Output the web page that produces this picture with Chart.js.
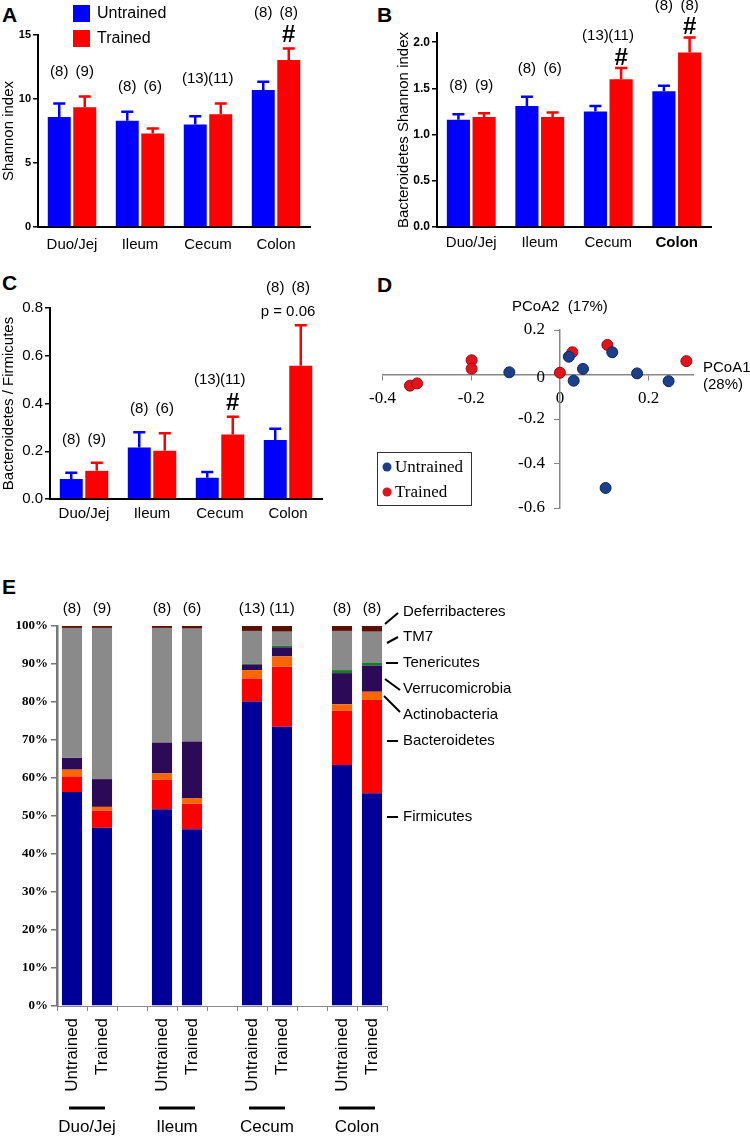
<!DOCTYPE html>
<html>
<head>
<meta charset="utf-8">
<script src="https://cdn.jsdelivr.net/npm/chart.js@4.4.0/dist/chart.umd.min.js"></script>
<style>
  body { margin: 0; background: #fff; width: 750px; height: 1137px; position: relative; overflow: hidden; }
  canvas { position: absolute; }
  .panel { position: absolute; font: bold 21px Arial, "Liberation Sans", sans-serif; line-height: 21px; color: #000; }
</style>
</head>
<body>
<div class="panel" style="left:2px;top:4px">A</div>
<div class="panel" style="left:377px;top:4px">B</div>
<div class="panel" style="left:2px;top:272px">C</div>
<div class="panel" style="left:377px;top:274px">D</div>
<div class="panel" style="left:2px;top:576px">E</div>

<canvas id="pa" width="375" height="290" style="left:0;top:0"></canvas>
<canvas id="pb" width="375" height="290" style="left:375px;top:0"></canvas>
<canvas id="pc" width="375" height="265" style="left:0;top:270px"></canvas>
<canvas id="pd" width="390" height="260" style="left:360px;top:270px"></canvas>
<canvas id="pe" width="750" height="577" style="left:0;top:560px"></canvas>

<script>
// ---- data ----
const sites = ['Duo/Jej', 'Ileum', 'Cecum', 'Colon'];
const nUntrained = [8, 8, 13, 8];
const nTrained = [9, 6, 11, 8];

// A: Shannon index (mean, sem)
const shannonUntrained = [8.6, 8.3, 8.0, 10.7];
const shannonUntrainedSem = [1.05, 0.7, 0.65, 0.65];
const shannonTrained = [9.35, 7.3, 8.8, 13.05];
const shannonTrainedSem = [0.85, 0.4, 0.85, 0.9];

// B: Bacteroidetes Shannon index
const bactUntrained = [1.16, 1.31, 1.25, 1.47];
const bactUntrainedSem = [0.06, 0.10, 0.06, 0.06];
const bactTrained = [1.19, 1.19, 1.60, 1.89];
const bactTrainedSem = [0.04, 0.05, 0.12, 0.16];

// C: Bacteroidetes / Firmicutes
const ratioUntrained = [0.084, 0.216, 0.089, 0.247];
const ratioUntrainedSem = [0.026, 0.064, 0.024, 0.047];
const ratioTrained = [0.118, 0.202, 0.27, 0.558];
const ratioTrainedSem = [0.034, 0.073, 0.074, 0.17];

// D: PCoA
const pcoa1Untrained = [-0.114, 0.02, 0.031, 0.052, 0.118, 0.174, 0.245, 0.103];
const pcoa2Untrained = [0.01, 0.08, -0.028, 0.025, 0.10, 0.005, -0.03, -0.51];
const pcoa1Trained = [-0.338, -0.322, -0.199, -0.199, 0, 0.028, 0.107, 0.285];
const pcoa2Trained = [-0.05, -0.04, 0.064, 0.026, 0.008, 0.10, 0.133, 0.06];

// E: relative abundance (%), samples: Duo U/T, Ileum U/T, Cecum U/T, Colon U/T
const sampleGroups = ['Untrained', 'Trained', 'Untrained', 'Trained', 'Untrained', 'Trained', 'Untrained', 'Trained'];
const nE = [8, 9, 8, 6, 13, 11, 8, 8];
const phyla = ['Firmicutes', 'Bacteroidetes', 'Actinobacteria', 'Verrucomicrobia', 'Tenericutes', 'TM7', 'Deferribacteres'];
const firmicutes = [56.3, 46.9, 51.8, 46.5, 80.1, 73.5, 63.4, 56.0];
const bacteroidetes = [4.1, 4.5, 7.7, 6.7, 6.1, 15.8, 14.3, 24.5];
const actinobacteria = [1.8, 1.0, 1.7, 1.5, 2.2, 2.7, 1.7, 2.2];
const verrucomicrobia = [3.1, 7.3, 8.1, 14.9, 1.5, 2.4, 8.2, 6.9];
const tenericutes = [0, 0, 0, 0, 0.2, 0.4, 0.8, 0.8];
const tm7 = [34.2, 39.8, 30.2, 29.7, 8.6, 3.7, 10.3, 8.1];
const deferribacteres = [0.5, 0.5, 0.5, 0.7, 1.3, 1.5, 1.3, 1.5];

// ---- style ----
const BLUE = '#0000ff';
const RED = '#ff0000';
const SANS = 'Arial, "Liberation Sans", Helvetica, sans-serif';
const SERIF = '"Times New Roman", "Liberation Serif", Times, serif';
Chart.defaults.font.family = SANS;
Chart.defaults.color = '#000';
Chart.defaults.animation = false;

// error bars, n labels, # / p marks, optional legend
function barDecor(p) {
  return {
    id: 'barDecor',
    afterDatasetsDraw(chart) {
      const ctx = chart.ctx;
      const ys = chart.scales.y;
      const sems = [p.sem0, p.sem1];
      const metas = [chart.getDatasetMeta(0), chart.getDatasetMeta(1)];
      const tops = metas.map((m, d) => m.data.map((bar, i) =>
        ys.getPixelForValue(chart.data.datasets[d].data[i] + sems[d][i])));
      ctx.save();
      ctx.lineWidth = 2.5;
      metas.forEach((m, d) => {
        ctx.strokeStyle = chart.data.datasets[d].backgroundColor;
        m.data.forEach((bar, i) => {
          const t = tops[d][i];
          ctx.beginPath();
          ctx.moveTo(bar.x, bar.y);
          ctx.lineTo(bar.x, t);
          ctx.moveTo(bar.x - 6, t);
          ctx.lineTo(bar.x + 6, t);
          ctx.stroke();
        });
      });
      ctx.fillStyle = '#000';
      ctx.textAlign = 'center';
      ctx.textBaseline = 'middle';
      sites.forEach((s, i) => {
        const x0 = metas[0].data[i].x, x1 = metas[1].data[i].x;
        let ny = Math.min(tops[0][i], tops[1][i]) - p.nGap;
        const mark = p.marks[i];
        if (mark) {
          const my = tops[1][i] - p.markGap;
          ctx.font = mark.font;
          ctx.fillText(mark.text, mark.onBar ? x1 : (x0 + x1) / 2, my);
          ny = my - p.markToN;
        }
        ctx.font = '15px ' + SANS;
        ctx.fillText('(' + nUntrained[i] + ')', x0, ny);
        ctx.fillText('(' + nTrained[i] + ')', x1, ny);
      });
      if (p.legend) {
        ctx.textAlign = 'left';
        ctx.font = '16px ' + SANS;
        chart.data.datasets.forEach((ds, d) => {
          const y0 = 5 + d * 25;
          ctx.fillStyle = ds.backgroundColor;
          ctx.fillRect(73, y0, 17, 17);
          ctx.fillStyle = '#000';
          ctx.fillText(ds.label, 97, y0 + 9);
        });
      }
      ctx.restore();
    }
  };
}

function barPanel(id, p) {
  return new Chart(document.getElementById(id), {
    type: 'bar',
    data: {
      labels: sites,
      datasets: [
        { label: 'Untrained', data: p.data0, backgroundColor: BLUE, categoryPercentage: 0.75, barPercentage: 0.9 },
        { label: 'Trained', data: p.data1, backgroundColor: RED, categoryPercentage: 0.75, barPercentage: 0.9 }
      ]
    },
    options: {
      responsive: false,
      devicePixelRatio: 1,
      layout: { padding: p.padding },
      plugins: { legend: { display: false }, tooltip: { enabled: false } },
      scales: {
        x: {
          grid: { display: false, drawTicks: false },
          border: { color: '#000', width: 2 },
          ticks: { font: p.xFont, padding: p.xPad, maxRotation: 0, autoSkip: false },
          afterFit: s => { s.height = p.xHeight; }
        },
        y: {
          min: 0, max: p.max,
          ticks: { stepSize: p.step, includeBounds: false, font: p.yFont, padding: 2, callback: p.fmt },
          grid: { drawOnChartArea: false, tickLength: 5, color: '#000', lineWidth: 1.5 },
          border: { color: '#000', width: 2 },
          title: { display: true, text: p.title, font: { size: 15 }, padding: 0 },
          afterFit: s => { s.width = p.yWidth; }
        }
      }
    },
    plugins: [barDecor(p)]
  });
}

const hash = { text: '#', font: 'bold 24px ' + SANS, onBar: true };

barPanel('pa', {
  data0: shannonUntrained, data1: shannonTrained, sem0: shannonUntrainedSem, sem1: shannonTrainedSem,
  max: 15, step: 5, fmt: v => v, title: 'Shannon index',
  yFont: { size: 11, weight: 'bold' }, xFont: { size: 15 }, xPad: 9,
  padding: { left: 0, top: 35, right: 65, bottom: 0 }, yWidth: 38, xHeight: 63,
  nGap: 25, markGap: 13, markToN: 23, marks: [null, null, null, hash], legend: true
});

barPanel('pb', {
  data0: bactUntrained, data1: bactTrained, sem0: bactUntrainedSem, sem1: bactTrainedSem,
  max: 2.1, step: 0.5, fmt: v => v.toFixed(1), title: 'Bacteroidetes Shannon index',
  yFont: { size: 12, weight: 'bold' },
  xFont: c => ({ size: 15, weight: c.index === 3 ? 'bold' : 'normal' }), xPad: 7,
  padding: { left: 20, top: 33, right: 39, bottom: 0 }, yWidth: 42, xHeight: 63,
  nGap: 28, markGap: 10, markToN: 22, marks: [null, null, hash, hash]
});

barPanel('pc', {
  data0: ratioUntrained, data1: ratioTrained, sem0: ratioUntrainedSem, sem1: ratioTrainedSem,
  max: 0.8, step: 0.2, fmt: v => v.toFixed(1), title: 'Bacteroidetes / Firmicutes',
  yFont: { size: 15 }, xFont: { size: 15 }, xPad: 6,
  padding: { left: 0, top: 38, right: 53, bottom: 0 }, yWidth: 50, xHeight: 36,
  nGap: 23, markGap: 13, markToN: 24,
  marks: [null, null, hash, { text: 'p = 0.06', font: '15px ' + SANS, onBar: false }]
});

// ---- D: PCoA scatter ----
const pcoaDecor = {
  id: 'pcoaDecor',
  afterDraw(chart) {
    const ctx = chart.ctx;
    const ys = chart.scales.y;
    const x0 = chart.scales.x.getPixelForValue(0);
    const y0 = ys.getPixelForValue(0);
    ctx.save();
    ctx.fillStyle = '#000';
    ctx.textBaseline = 'middle';
    // y tick labels, set off to the left of the crossing axis
    ctx.font = '17px ' + SERIF;
    ctx.textAlign = 'right';
    ys.ticks.forEach(t => {
      ctx.fillText(t.label, x0 - 15, ys.getPixelForValue(t.value) + (t.value === 0 ? 3 : 0));
    });
    ctx.font = '15px ' + SANS;
    ctx.textAlign = 'center';
    ctx.fillText('PCoA2  (17%)', x0, chart.chartArea.top - 23);
    ctx.textAlign = 'left';
    ctx.fillText('PCoA1', chart.chartArea.right + 10, y0 - 7);
    ctx.fillText('(28%)', chart.chartArea.right + 10, y0 + 10);
    ctx.strokeStyle = '#333';
    ctx.lineWidth = 1;
    ctx.strokeRect(17.5, 182.5, 94, 53);
    ctx.font = '17px ' + SERIF;
    chart.data.datasets.forEach((ds, d) => {
      const y = 197 + d * 25;
      ctx.beginPath();
      ctx.arc(27, y, 4.5, 0, Math.PI * 2);
      ctx.fillStyle = ds.backgroundColor;
      ctx.fill();
      ctx.fillStyle = '#000';
      ctx.fillText(ds.label, 35, y + 1);
    });
    ctx.restore();
  }
};

new Chart(document.getElementById('pd'), {
  type: 'scatter',
  data: {
    datasets: [
      { label: 'Untrained', data: pcoa1Untrained.map((x, i) => ({ x: x, y: pcoa2Untrained[i] })),
        backgroundColor: '#1c3f8c', borderColor: '#0e2660', borderWidth: 1, pointRadius: 5.5 },
      { label: 'Trained', data: pcoa1Trained.map((x, i) => ({ x: x, y: pcoa2Trained[i] })),
        backgroundColor: '#e3121b', borderColor: '#9c0a0f', borderWidth: 1, pointRadius: 5.5 }
    ]
  },
  options: {
    responsive: false,
    devicePixelRatio: 1,
    layout: { padding: { left: 11, top: 60, right: 57, bottom: 22 } },
    plugins: { legend: { display: false }, tooltip: { enabled: false } },
    scales: {
      x: {
        type: 'linear', min: -0.4, max: 0.3, position: { y: 0 },
        ticks: { stepSize: 0.2, includeBounds: false, font: { family: SERIF, size: 17 }, padding: 9 },
        grid: { drawOnChartArea: false, tickLength: 5, color: '#888' },
        border: { color: '#888', width: 1.5 }
      },
      y: {
        type: 'linear', min: -0.6, max: 0.2, position: { x: 0 },
        ticks: { display: false, stepSize: 0.2, includeBounds: false },
        grid: { drawOnChartArea: false, tickLength: 5, color: '#888' },
        border: { color: '#888', width: 1.5 }
      }
    }
  },
  plugins: [pcoaDecor]
});

// ---- E: stacked phylum composition ----
const slots = [0, 1, 3, 4, 6, 7, 9, 10];
const phylumValues = [firmicutes, bacteroidetes, actinobacteria, verrucomicrobia, tenericutes, tm7, deferribacteres];
const phylumColors = ['#000099', '#ff0000', '#ff6600', '#2d0a57', '#1a7a2a', '#8a8a8a', '#5a1000'];
const eLabels = new Array(11).fill('');
slots.forEach((s, k) => { eLabels[s] = sampleGroups[k]; });
function spread(vals) {
  const out = new Array(11).fill(null);
  slots.forEach((s, k) => { out[s] = vals[k]; });
  return out;
}
// phylum key on the right, top to bottom, with leader lines
const keyRows = [
  { name: 'Deferribacteres', y: 52, from: [385, 64], to: [398, 53] },
  { name: 'TM7', y: 77, from: [387, 83], to: [398, 77] },
  { name: 'Tenericutes', y: 103, from: [386, 103], to: [398, 103] },
  { name: 'Verrucomicrobia', y: 129, from: [385, 119], to: [400, 130] },
  { name: 'Actinobacteria', y: 155, from: [384, 136], to: [400, 152] },
  { name: 'Bacteroidetes', y: 181, from: [387, 181], to: [398, 181] },
  { name: 'Firmicutes', y: 257, from: [387, 257], to: [398, 257] }
];

const compDecor = {
  id: 'compDecor',
  afterDraw(chart) {
    const ctx = chart.ctx;
    const xs = chart.scales.x;
    ctx.save();
    ctx.fillStyle = '#000';
    ctx.strokeStyle = '#000';
    ctx.textAlign = 'center';
    ctx.textBaseline = 'middle';
    ctx.font = '15px ' + SANS;
    slots.forEach((s, k) => {
      ctx.fillText('(' + nE[k] + ')', xs.getPixelForValue(s), 49);
    });
    ctx.font = '17px ' + SANS;
    ctx.lineWidth = 3;
    sites.forEach((name, g) => {
      const cx = (xs.getPixelForValue(slots[2 * g]) + xs.getPixelForValue(slots[2 * g + 1])) / 2;
      ctx.beginPath();
      ctx.moveTo(cx - 18, 548);
      ctx.lineTo(cx + 18, 548);
      ctx.stroke();
      ctx.fillText(name, cx, 567);
    });
    ctx.textAlign = 'left';
    ctx.font = '15px ' + SANS;
    ctx.lineWidth = 2;
    keyRows.forEach(r => {
      ctx.beginPath();
      ctx.moveTo(r.from[0], r.from[1]);
      ctx.lineTo(r.to[0], r.to[1]);
      ctx.stroke();
      ctx.fillText(r.name, 403, r.y);
    });
    ctx.restore();
  }
};

new Chart(document.getElementById('pe'), {
  type: 'bar',
  data: {
    labels: eLabels,
    datasets: phyla.map((name, k) => ({
      label: name, data: spread(phylumValues[k]), backgroundColor: phylumColors[k],
      barPercentage: 0.67, categoryPercentage: 1
    }))
  },
  options: {
    responsive: false,
    devicePixelRatio: 1,
    layout: { padding: { left: 0, top: 66, right: 363, bottom: 0 } },
    plugins: { legend: { display: false }, tooltip: { enabled: false } },
    scales: {
      x: {
        stacked: true,
        grid: { drawOnChartArea: false, tickLength: 5, color: '#888', offset: true },
        border: { color: '#888', width: 1 },
        ticks: { minRotation: 90, maxRotation: 90, autoSkip: false, font: { size: 17 }, padding: 7 },
        afterFit: s => { s.height = 131; }
      },
      y: {
        stacked: true, min: 0, max: 100,
        ticks: { stepSize: 10, font: { family: SERIF, size: 13, weight: 'bold' }, padding: 3, callback: v => v + '%' },
        grid: { drawOnChartArea: false, tickLength: 6, color: '#777', lineWidth: 1.5 },
        border: { color: '#777', width: 2.5 },
        afterFit: s => { s.width = 57; }
      }
    }
  },
  plugins: [compDecor]
});
</script>
</body>
</html>
